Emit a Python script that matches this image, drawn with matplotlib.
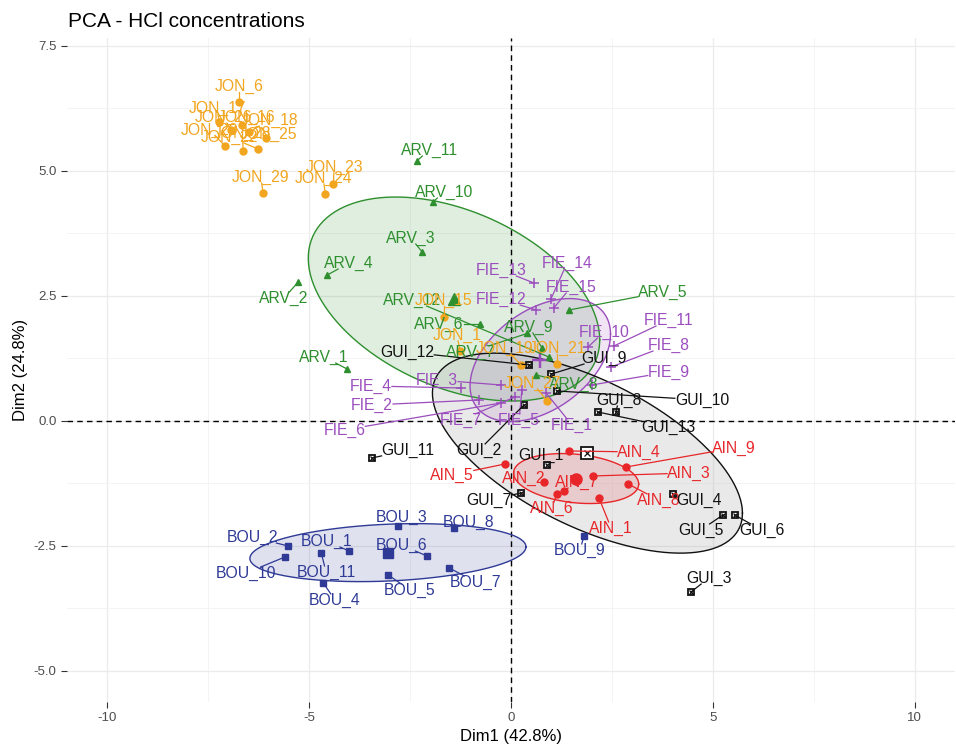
import numpy as np
import matplotlib.pyplot as plt
from matplotlib.lines import Line2D

plt.rcParams['font.family'] = ['Liberation Sans', 'DejaVu Sans']
plt.rcParams['axes.unicode_minus'] = False

# individual coordinates (Dim1, Dim2)
AIN_names = ["AIN_1", "AIN_2", "AIN_3", "AIN_4", "AIN_5", "AIN_6", "AIN_7", "AIN_8", "AIN_9"]
AIN_x = [2.18, 0.82, 2.03, 1.44, -0.15, 1.14, 1.31, 2.90, 2.85]
AIN_y = [-1.54, -1.22, -1.10, -0.60, -0.86, -1.46, -1.40, -1.26, -0.92]

ARV_names = ["ARV_1", "ARV_2", "ARV_3", "ARV_4", "ARV_5", "ARV_6",
             "ARV_7", "ARV_8", "ARV_9", "ARV_10", "ARV_11", "ARV_12"]
ARV_x = [-4.06, -5.27, -2.20, -4.55, 1.44, -0.77, 0.40, 0.62, 0.77, -1.93, -2.33, 0.94]
ARV_y = [1.04, 2.78, 3.38, 2.92, 2.22, 1.94, 1.75, 0.92, 1.46, 4.38, 5.20, 1.28]

BOU_names = ["BOU_1", "BOU_2", "BOU_3", "BOU_4", "BOU_5", "BOU_6",
             "BOU_7", "BOU_8", "BOU_9", "BOU_10", "BOU_11"]
BOU_x = [-4.01, -5.52, -2.80, -4.65, -3.04, -2.08, -1.53, -1.41, 1.81, -5.60, -4.70]
BOU_y = [-2.60, -2.50, -2.10, -3.24, -3.08, -2.70, -2.94, -2.14, -2.30, -2.72, -2.64]

FIE_names = ["FIE_1", "FIE_2", "FIE_3", "FIE_4", "FIE_5", "FIE_6", "FIE_7", "FIE_8",
             "FIE_9", "FIE_10", "FIE_11", "FIE_12", "FIE_13", "FIE_14", "FIE_15"]
FIE_x = [0.87, -0.79, -0.25, -1.24, 0.27, -0.25, 0.10, 2.48, 2.00, 1.91, 2.55, 0.62, 0.57, 0.99, 1.06]
FIE_y = [0.56, 0.42, 0.72, 0.66, 0.62, 0.36, 0.48, 1.08, 0.72, 1.48, 1.50, 2.22, 2.76, 2.44, 2.26]

GUI_names = ["GUI_1", "GUI_2", "GUI_3", "GUI_4", "GUI_5", "GUI_6", "GUI_7",
             "GUI_8", "GUI_9", "GUI_10", "GUI_11", "GUI_12", "GUI_13"]
GUI_x = [0.89, 0.32, 4.46, 4.01, 5.25, 5.54, 0.25, 2.60, 1.00, 1.14, -3.44, 0.45, 2.15]
GUI_y = [-0.88, 0.32, -3.42, -1.46, -1.88, -1.88, -1.44, 0.18, 0.94, 0.60, -0.74, 1.12, 0.18]

JON_names = ["JON_6", "JON_17", "JON_26", "JON_16", "JON_18", "JON_20", "JON_28", "JON_22",
             "JON_25", "JON_29", "JON_24", "JON_23", "JON_15", "JON_1", "JON_19", "JON_21", "JON_27"]
JON_x = [-6.73, -7.23, -6.93, -6.66, -6.49, -7.08, -6.63, -6.26, -6.06,
         -6.14, -4.60, -4.40, -1.66, -1.26, 0.25, 1.14, 0.89]
JON_y = [6.38, 5.98, 5.82, 5.92, 5.78, 5.50, 5.40, 5.44, 5.66,
         4.56, 4.54, 4.74, 2.08, 1.40, 1.12, 1.14, 0.40]

# ellipse shape per group: half extent along Dim1, along Dim2, correlation
ellipse_shape = {
    "ARV": (3.61, 2.04, -0.40),
    "FIE": (1.74, 1.23, 0.42),
    "GUI": (3.84, 2.00, -0.60),
    "AIN": (1.55, 0.50, -0.22),
    "BOU": (3.42, 0.58, 0.20),
}

# where the repelled labels ended up
label_pos = {
    "JON_6": (-6.73, 6.70), "JON_17": (-7.28, 6.26), "JON_26": (-7.13, 6.08), "JON_16": (-6.56, 6.08),
    "JON_18": (-5.97, 6.02), "JON_20": (-7.47, 5.82), "JON_28": (-6.66, 5.76), "JON_22": (-6.98, 5.68),
    "JON_25": (-6.01, 5.74), "JON_29": (-6.20, 4.88), "JON_24": (-4.65, 4.86), "JON_23": (-4.38, 5.08),
    "JON_15": (-1.66, 2.42), "JON_1": (-1.34, 1.72), "JON_19": (-0.15, 1.46), "JON_21": (1.14, 1.46),
    "JON_27": (0.54, 0.76),
    "ARV_11": (-2.03, 5.42), "ARV_10": (-1.66, 4.58), "ARV_3": (-2.48, 3.66), "ARV_4": (-4.01, 3.16),
    "ARV_2": (-5.62, 2.46), "ARV_12": (-2.45, 2.42), "ARV_6": (-1.78, 1.94), "ARV_1": (-4.63, 1.28),
    "ARV_9": (0.45, 1.88), "ARV_7": (-1.01, 1.38), "ARV_8": (1.56, 0.74), "ARV_5": (3.76, 2.58),
    "FIE_13": (-0.25, 3.02), "FIE_14": (1.39, 3.16), "FIE_12": (-0.25, 2.44), "FIE_15": (1.49, 2.68),
    "FIE_10": (2.30, 1.78), "FIE_11": (3.91, 2.02), "FIE_8": (3.91, 1.52), "FIE_9": (3.91, 0.98),
    "FIE_3": (-1.83, 0.82), "FIE_4": (-3.47, 0.70), "FIE_2": (-3.44, 0.32), "FIE_6": (-4.13, -0.18),
    "FIE_7": (-1.24, 0.02), "FIE_5": (0.20, 0.02), "FIE_1": (1.51, -0.08),
    "GUI_12": (-2.57, 1.38), "GUI_9": (2.30, 1.26), "GUI_8": (2.67, 0.42), "GUI_10": (4.73, 0.42),
    "GUI_13": (3.91, -0.12), "GUI_11": (-2.55, -0.58), "GUI_2": (-0.79, -0.58), "GUI_1": (0.74, -0.68),
    "GUI_7": (-0.54, -1.58), "GUI_4": (4.65, -1.58), "GUI_5": (4.70, -2.18), "GUI_6": (6.21, -2.18),
    "GUI_3": (4.90, -3.14),
    "AIN_4": (3.17, -0.62), "AIN_9": (5.52, -0.54), "AIN_3": (4.41, -1.04), "AIN_8": (3.66, -1.58),
    "AIN_1": (2.48, -2.14), "AIN_6": (1.01, -1.74), "AIN_2": (0.32, -1.14), "AIN_7": (1.63, -1.22),
    "AIN_5": (-1.46, -1.08),
    "BOU_3": (-2.72, -1.92), "BOU_8": (-1.04, -2.02), "BOU_2": (-6.41, -2.32), "BOU_1": (-4.58, -2.40),
    "BOU_6": (-2.72, -2.48), "BOU_10": (-6.56, -3.04), "BOU_11": (-4.58, -3.02), "BOU_4": (-4.36, -3.58),
    "BOU_5": (-2.50, -3.38), "BOU_7": (-0.87, -3.22), "BOU_9": (1.71, -2.58),
}

colors = {"AIN": "#E8262A", "ARV": "#2E8F2E", "BOU": "#2E3A96",
          "FIE": "#9B4DBE", "GUI": "#111111", "JON": "#F2A51E"}

groups = {
    "AIN": (AIN_names, AIN_x, AIN_y),
    "ARV": (ARV_names, ARV_x, ARV_y),
    "BOU": (BOU_names, BOU_x, BOU_y),
    "FIE": (FIE_names, FIE_x, FIE_y),
    "GUI": (GUI_names, GUI_x, GUI_y),
    "JON": (JON_names, JON_x, JON_y),
}


def ellipse_xy(cx, cy, sx, sy, rho, n=240):
    t = np.linspace(0, 2 * np.pi, n)
    cov = np.array([[sx * sx, rho * sx * sy], [rho * sx * sy, sy * sy]])
    L = np.linalg.cholesky(cov)
    pts = L @ np.vstack([np.cos(t), np.sin(t)])
    return cx + pts[0], cy + pts[1]


def draw_marker(ax, grp, x, y, big=False):
    c = colors[grp]
    k = 1.6 if big else 1.0
    if grp == "ARV":
        ax.plot(x, y, '^', ms=5 * k, color=c, mec=c, ls='none', zorder=4)
    elif grp == "BOU":
        ax.plot(x, y, 's', ms=4.6 * k, color=c, mec=c, ls='none', zorder=4)
    elif grp == "FIE":
        ax.plot(x, y, '+', ms=7 * k, mew=1.1 * k, color=c, ls='none', zorder=4)
    elif grp == "GUI":
        ax.plot(x, y, 's', ms=5 * k, mfc='white', mec=c, mew=1.3, ls='none', zorder=4)
        ax.plot(x, y, 'x', ms=3 * k, mew=0.9, color=c, ls='none', zorder=4)
    else:
        ax.plot(x, y, 'o', ms=5 * k, color=c, mec=c, ls='none', zorder=4)


fig = plt.figure(figsize=(9.56, 7.52), dpi=100)
ax = fig.add_axes([0.070, 0.0665, 0.929, 0.883])
ax.set_xlim(-11, 11)
ax.set_ylim(-5.62, 7.66)

ax.set_xticks([-10, -5, 0, 5, 10])
ax.set_xticks([-7.5, -2.5, 2.5, 7.5], minor=True)
ax.set_yticks([-5, -2.5, 0, 2.5, 5, 7.5])
ax.set_yticks([-3.75, -1.25, 1.25, 3.75, 6.25], minor=True)
ax.set_yticklabels(['-5.0', '-2.5', '0.0', '2.5', '5.0', '7.5'])
ax.set_xticklabels(['-10', '-5', '0', '5', '10'])
ax.grid(which='major', color='#EBEBEB', lw=0.9)
ax.grid(which='minor', color='#F2F2F2', lw=0.6)
ax.set_axisbelow(True)
for s in ax.spines.values():
    s.set_visible(False)
ax.tick_params(which='major', length=4, width=0.8, color='#333333', labelcolor='#4D4D4D', labelsize=9.5)
ax.tick_params(which='minor', length=0)

ax.axhline(0, color='black', ls=(0, (4, 3)), lw=1.0, zorder=2)
ax.axvline(0, color='black', ls=(0, (4, 3)), lw=1.0, zorder=2)

# ellipses + mean points (JON has neither on the map)
for grp, (sx, sy, rho) in ellipse_shape.items():
    names, xs, ys = groups[grp]
    cx, cy = np.mean(xs), np.mean(ys)
    ex, ey = ellipse_xy(cx, cy, sx, sy, rho)
    fill = '#B0B0B0' if grp == "GUI" else colors[grp]
    ax.fill(ex, ey, color=fill, alpha=0.28 if grp == "GUI" else 0.15, lw=0, zorder=1)
    ax.plot(ex, ey, color=colors[grp], lw=1.0, zorder=3)
    draw_marker(ax, grp, [cx], [cy], big=True)

texts = []
for grp, (names, xs, ys) in groups.items():
    draw_marker(ax, grp, xs, ys)
    for n, x, y in zip(names, xs, ys):
        lx, ly = label_pos[n]
        t = ax.text(lx, ly, n, color=colors[grp], fontsize=11.3, ha='center', va='center', zorder=6)
        texts.append((t, x, y, colors[grp]))

# leader segments like ggrepel: from the point to the label box edge
fig.canvas.draw()
r = fig.canvas.get_renderer()
inv = ax.transData.inverted()
for t, x, y, c in texts:
    bb = t.get_window_extent(r).expanded(1.0, 0.8)
    px, py = ax.transData.transform((x, y))
    cxp, cyp = (bb.x0 + bb.x1) / 2, (bb.y0 + bb.y1) / 2
    dx, dy = px - cxp, py - cyp
    if bb.contains(px, py):
        continue
    hw, hh = bb.width / 2, bb.height / 2
    s = min(hw / abs(dx) if dx else np.inf, hh / abs(dy) if dy else np.inf)
    ex, ey = cxp + dx * s, cyp + dy * s
    if np.hypot(px - ex, py - ey) < 5:
        continue
    (x0, y0), (x1, y1) = inv.transform([(ex, ey), (px, py)])
    ax.add_line(Line2D([x0, x1], [y0, y1], color=c, lw=0.9, zorder=5))

ax.set_xlabel('Dim1 (42.8%)', fontsize=12, labelpad=3)
ax.set_ylabel('Dim2 (24.8%)', fontsize=12, labelpad=4)
fig.text(0.071, 0.972, 'PCA - HCl concentrations', fontsize=15, va='center', ha='left')

fig.savefig('out.png', dpi=100)
